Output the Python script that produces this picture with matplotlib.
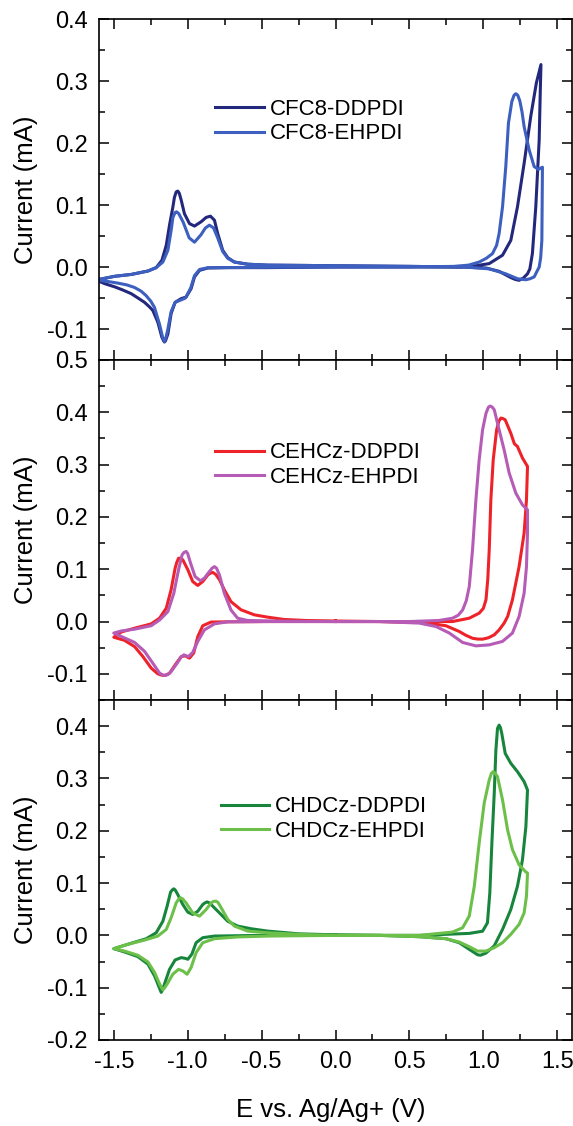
import matplotlib
matplotlib.use('Agg')
import matplotlib.pyplot as plt
from matplotlib.ticker import MultipleLocator, FormatStrFormatter

plt.rcParams['font.family'] = ['Liberation Sans', 'DejaVu Sans']
plt.rcParams['axes.unicode_minus'] = False

# ---- data: each curve is one closed CV loop (E in V, I in mA) ----
# panel 1
cfc8_dd_E = [0.0, -0.2, -0.46, -0.594, -0.684, -0.729, -0.763, -0.797, -0.819, -0.846, -0.875, -0.909, -0.954,
             -0.988, -1.022, -1.044, -1.057, -1.067, -1.078, -1.09, -1.100, -1.123, -1.145, -1.174, -1.213, -1.269,
             -1.382, -1.494, -1.62,
             -1.56, -1.494, -1.44, -1.382, -1.33, -1.292, -1.26, -1.236, -1.202, -1.175, -1.163, -1.157, -1.150,
             -1.134, -1.112, -1.085, -1.044, -1.011, -0.977, -0.954, -0.920, -0.864, -0.729, -0.459, 0.0,
             0.5, 0.85, 0.95, 1.04, 1.13, 1.186, 1.231, 1.276, 1.321, 1.359, 1.39,
             1.385, 1.378, 1.355, 1.332, 1.315, 1.299, 1.27, 1.242, 1.215, 1.186, 1.107, 1.018, 0.85, 0.5, 0.0]
cfc8_dd_I = [0.002, 0.0025, 0.003, 0.0045, 0.008, 0.015, 0.027, 0.054, 0.0755, 0.082, 0.080, 0.073, 0.066,
             0.070, 0.086, 0.108, 0.119, 0.1225, 0.121, 0.112, 0.097, 0.0675, 0.035, 0.011, -0.001, -0.0065,
             -0.012, -0.015, -0.021,
             -0.027, -0.032, -0.037, -0.043, -0.051, -0.057, -0.064, -0.070, -0.089, -0.113, -0.119, -0.121, -0.119,
             -0.108, -0.075, -0.057, -0.051, -0.0485, -0.035, -0.016, -0.0054, -0.0016, -0.001, -0.001, 0.0,
             0.0, 0.0005, 0.002, 0.0055, 0.019, 0.043, 0.097, 0.167, 0.243, 0.297, 0.3265,
             0.28, 0.205, 0.097, 0.0216, -0.003, -0.011, -0.018, -0.0215, -0.020, -0.017, -0.007, -0.0016, 0.0, 0.001, 0.002]

cfc8_eh_E = [0.0, -0.2, -0.46, -0.594, -0.684, -0.729, -0.763, -0.797, -0.825, -0.853, -0.88, -0.91, -0.954,
             -0.99, -1.03, -1.06, -1.075, -1.085, -1.10, -1.112, -1.134, -1.168, -1.213, -1.269, -1.382, -1.494, -1.62,
             -1.55, -1.472, -1.41, -1.36, -1.315, -1.282, -1.25, -1.225, -1.191, -1.17, -1.157, -1.146, -1.134, -1.112,
             -1.085, -1.044, -1.015, -0.98, -0.954, -0.92, -0.864, -0.5, 0.0,
             0.5, 0.8, 0.9, 0.972, 1.02, 1.062, 1.09, 1.107, 1.130, 1.152, 1.170, 1.193, 1.208, 1.220, 1.233, 1.247,
             1.262, 1.276, 1.310, 1.344, 1.373, 1.40,
             1.398, 1.396, 1.388, 1.378, 1.344, 1.315, 1.288, 1.232, 1.152, 1.04, 0.87, 0.5, 0.0]
cfc8_eh_I = [0.002, 0.0025, 0.003, 0.0045, 0.008, 0.014, 0.025, 0.047, 0.063, 0.0675, 0.063, 0.052, 0.040,
             0.047, 0.072, 0.086, 0.089, 0.088, 0.080, 0.059, 0.027, 0.008, -0.001, -0.0065, -0.012, -0.015, -0.021,
             -0.023, -0.026, -0.029, -0.033, -0.039, -0.046, -0.055, -0.065, -0.092, -0.113, -0.120, -0.113, -0.100,
             -0.072, -0.057, -0.053, -0.050, -0.034, -0.014, -0.004, -0.0012, -0.0005, 0.0,
             0.0, 0.001, 0.003, 0.008, 0.014, 0.0216, 0.035, 0.054, 0.097, 0.162, 0.232, 0.267, 0.277, 0.2795, 0.277,
             0.268, 0.25, 0.2265, 0.189, 0.162, 0.1575, 0.161,
             0.10, 0.043, 0.015, 0.0, -0.016, -0.019, -0.0205, -0.019, -0.011, -0.003, 0.0, 0.001, 0.002]

# panel 2
cehcz_dd_E = [0.0, -0.2, -0.35, -0.459, -0.549, -0.639, -0.707, -0.752, -0.785, -0.81, -0.831, -0.85, -0.864,
              -0.898, -0.932, -0.966, -0.999, -1.033, -1.05, -1.062, -1.075, -1.085, -1.112, -1.145, -1.190, -1.247,
              -1.359, -1.449, -1.50,
              -1.427, -1.359, -1.303, -1.247, -1.202, -1.175, -1.161, -1.145, -1.123, -1.085, -1.044, -1.017, -0.988,
              -0.959, -0.932, -0.898, -0.842, -0.729, -0.459, 0.0,
              0.5, 0.792, 0.905, 0.972, 1.0, 1.018, 1.030, 1.040, 1.051, 1.067, 1.090, 1.105, 1.119, 1.133, 1.148,
              1.186, 1.21, 1.231, 1.265, 1.299,
              1.292, 1.276, 1.242, 1.197, 1.165, 1.141, 1.107, 1.074, 1.035, 0.995, 0.96, 0.927, 0.88, 0.837, 0.747,
              0.59, 0.3, 0.0]
cehcz_dd_I = [0.001, 0.002, 0.004, 0.0084, 0.0128, 0.0224, 0.038, 0.0606, 0.080, 0.090, 0.094, 0.092, 0.089,
              0.0765, 0.069, 0.0765, 0.099, 0.118, 0.121, 0.121, 0.112, 0.102, 0.061, 0.0255, 0.0065, -0.0045,
              -0.0127, -0.020, -0.030,
              -0.036, -0.048, -0.067, -0.089, -0.100, -0.1025, -0.103, -0.102, -0.099, -0.083, -0.067, -0.0656, -0.070,
              -0.060, -0.029, -0.008, -0.001, -0.0005, 0.0, 0.0,
              0.0, 0.0, 0.0064, 0.016, 0.025, 0.0415, 0.08, 0.137, 0.233, 0.309, 0.3665, 0.383, 0.389, 0.388, 0.3857,
              0.360, 0.34, 0.3346, 0.3125, 0.2965,
              0.233, 0.169, 0.105, 0.0415, 0.01, -0.003, -0.016, -0.0254, -0.031, -0.0337, -0.0335, -0.032, -0.026,
              -0.019, -0.008, -0.002, 0.0, 0.001]

cehcz_eh_E = [0.0, -0.3, -0.459, -0.594, -0.662, -0.707, -0.752, -0.785, -0.805, -0.819, -0.835, -0.853, -0.887,
              -0.914, -0.950, -0.981, -1.000, -1.011, -1.025, -1.038, -1.062, -1.094, -1.134, -1.190, -1.247, -1.359,
              -1.449, -1.50,
              -1.449, -1.359, -1.292, -1.236, -1.19, -1.165, -1.152, -1.135, -1.112, -1.071, -1.045, -1.026, -0.995,
              -0.966, -0.932, -0.887, -0.819, -0.729, -0.459, 0.0,
              0.5, 0.7, 0.792, 0.830, 0.860, 0.885, 0.905, 0.927, 0.950, 0.972, 0.995, 1.018, 1.035, 1.047, 1.060,
              1.074, 1.107, 1.141, 1.175, 1.220, 1.265, 1.299,
              1.299, 1.292, 1.276, 1.242, 1.197, 1.130, 1.04, 0.950, 0.860, 0.770, 0.680, 0.567, 0.3, 0.0]
cehcz_eh_I = [0.0, 0.0005, 0.0013, 0.002, 0.0064, 0.022, 0.054, 0.089, 0.102, 0.105, 0.102, 0.0956, 0.083,
              0.078, 0.086, 0.112, 0.130, 0.134, 0.132, 0.1275, 0.099, 0.054, 0.019, 0.003, -0.008, -0.0146,
              -0.018, -0.022,
              -0.0286, -0.040, -0.057, -0.0796, -0.0987, -0.1025, -0.103, -0.1015, -0.0956, -0.0796, -0.068, -0.0637,
              -0.067, -0.059, -0.038, -0.016, -0.0044, -0.0006, 0.0, 0.0,
              0.0, 0.002, 0.0064, 0.012, 0.022, 0.04, 0.067, 0.137, 0.233, 0.309, 0.3665, 0.398, 0.41, 0.412, 0.41,
              0.405, 0.3665, 0.328, 0.284, 0.2455, 0.223, 0.2135,
              0.169, 0.105, 0.054, 0.0096, -0.022, -0.038, -0.0446, -0.0465, -0.040, -0.022, -0.0095, -0.003, 0.0, 0.0]

# panel 3
chdcz_dd_E = [0.0, -0.25, -0.459, -0.571, -0.662, -0.729, -0.785, -0.831, -0.852, -0.869, -0.884, -0.898, -0.932,
              -0.966, -0.999, -1.033, -1.067, -1.085, -1.094, -1.104, -1.116, -1.139, -1.168, -1.213, -1.280, -1.382,
              -1.50,
              -1.427, -1.337, -1.269, -1.224, -1.197, -1.185, -1.179, -1.170, -1.157, -1.123, -1.085, -1.044, -1.015,
              -0.999, -0.972, -0.943, -0.898, -0.819, -0.5, 0.0,
              0.567, 0.905, 0.995, 1.028, 1.044, 1.058, 1.074, 1.085, 1.096, 1.107, 1.116, 1.125, 1.148, 1.186, 1.231,
              1.276, 1.299,
              1.288, 1.265, 1.231, 1.186, 1.130, 1.074, 1.017, 0.98, 0.961, 0.905, 0.837, 0.747, 0.567, 0.3, 0.0]
chdcz_dd_I = [0.001, 0.003, 0.0082, 0.0127, 0.0178, 0.027, 0.043, 0.056, 0.062, 0.064, 0.062, 0.059, 0.046,
              0.040, 0.0444, 0.059, 0.078, 0.087, 0.089, 0.087, 0.0825, 0.056, 0.027, 0.005, -0.0063, -0.015,
              -0.0254,
              -0.0317, -0.0406, -0.055, -0.0775, -0.0965, -0.105, -0.109, -0.104, -0.093, -0.065, -0.047, -0.0425,
              -0.044, -0.0457, -0.036, -0.014, -0.0044, -0.0013, 0.0, 0.0,
              0.0, 0.0038, 0.008, 0.024, 0.081, 0.1766, 0.272, 0.354, 0.3956, 0.402, 0.397, 0.386, 0.348, 0.329,
              0.313, 0.294, 0.278,
              0.208, 0.1448, 0.094, 0.0495, 0.0114, -0.020, -0.034, -0.038, -0.037, -0.0267, -0.014, -0.0063,
              -0.0025, 0.0, 0.001]

chdcz_eh_E = [0.0, -0.25, -0.459, -0.594, -0.684, -0.729, -0.774, -0.795, -0.808, -0.825, -0.842, -0.875, -0.920,
              -0.966, -1.011, -1.035, -1.049, -1.062, -1.078, -1.112, -1.145, -1.202, -1.292, -1.404, -1.50,
              -1.427, -1.337, -1.269, -1.224, -1.19, -1.175, -1.168, -1.158, -1.139, -1.10, -1.062, -1.033, -1.004,
              -0.977, -0.943, -0.898, -0.819, -0.662, -0.459, 0.0,
              0.567, 0.792, 0.860, 0.905, 0.939, 0.972, 1.006, 1.040, 1.055, 1.067, 1.080, 1.096, 1.130, 1.164, 1.197,
              1.242, 1.283, 1.299,
              1.292, 1.276, 1.242, 1.186, 1.130, 1.074, 1.017, 0.961, 0.905, 0.837, 0.747, 0.567, 0.3, 0.0]
chdcz_eh_I = [0.0, 0.002, 0.005, 0.0082, 0.0178, 0.0305, 0.053, 0.063, 0.0654, 0.065, 0.062, 0.0495, 0.0368,
              0.043, 0.062, 0.070, 0.0718, 0.069, 0.062, 0.0337, 0.0114, -0.0013, -0.009, -0.017, -0.0254,
              -0.030, -0.038, -0.0508, -0.071, -0.093, -0.101, -0.104, -0.101, -0.093, -0.074, -0.065, -0.068, -0.0743,
              -0.0615, -0.033, -0.014, -0.0063, -0.003, -0.0013, 0.0,
              0.0, 0.0064, 0.0146, 0.037, 0.094, 0.1766, 0.253, 0.297, 0.31, 0.313, 0.31, 0.3035, 0.259, 0.202, 0.164,
              0.135, 0.1225, 0.119,
              0.075, 0.043, 0.021, 0.002, -0.014, -0.0235, -0.030, -0.030, -0.0216, -0.0127, -0.0063, -0.0025, 0.0, 0.0]

labels_top = ['CFC8-DDPDI', 'CFC8-EHPDI']
labels_mid = ['CEHCz-DDPDI', 'CEHCz-EHPDI']
labels_bot = ['CHDCz-DDPDI', 'CHDCz-EHPDI']
colors_top = ['#23287d', '#3c5fc0']
colors_mid = ['#ee2229', '#b65bb6']
colors_bot = ['#17863c', '#6cc049']
ylims = [(-0.15, 0.4), (-0.15, 0.5), (-0.2, 0.45)]


def style_axis(ax, ylim):
    ax.set_xlim(-1.6, 1.6)
    ax.set_ylim(*ylim)
    ax.xaxis.set_major_locator(MultipleLocator(0.5))
    ax.xaxis.set_minor_locator(MultipleLocator(0.25))
    ax.yaxis.set_major_locator(MultipleLocator(0.1))
    ax.yaxis.set_minor_locator(MultipleLocator(0.05))
    ax.xaxis.set_major_formatter(FormatStrFormatter('%.1f'))
    ax.yaxis.set_major_formatter(FormatStrFormatter('%.1f'))
    ax.tick_params(which='both', direction='in', top=True, right=True, width=1.1, labelsize=17)
    ax.tick_params(which='major', length=7, pad=8)
    ax.tick_params(which='minor', length=4)
    for sp in ax.spines.values():
        sp.set_linewidth(1.2)
    ax.set_ylabel('Current (mA)', fontsize=18.5)
    ax.yaxis.set_label_coords(-0.128, 0.5)


def draw_panel(ax, curves, labels, colors, ylim, legend_xy):
    for (E, I), lab, col in zip(curves, labels, colors):
        ax.plot(E, I, color=col, lw=2.2, label=lab, solid_joinstyle='round')
    style_axis(ax, ylim)
    ax.legend(loc='center left', bbox_to_anchor=legend_xy, frameon=False, fontsize=16,
              handlelength=2.2, handletextpad=0.25, labelspacing=0.15, borderpad=0, borderaxespad=0)


fig = plt.figure(figsize=(5.73, 11.26), dpi=100)
left, width = 99 / 573, 473 / 573
ax1 = fig.add_axes([left, 1 - 360 / 1126, width, 341 / 1126])
ax2 = fig.add_axes([left, 1 - 700 / 1126, width, 340 / 1126])
ax3 = fig.add_axes([left, 1 - 1040 / 1126, width, 340 / 1126])

draw_panel(ax1, [(cfc8_dd_E, cfc8_dd_I), (cfc8_eh_E, cfc8_eh_I)], labels_top, colors_top, ylims[0], (0.246, 0.699))
draw_panel(ax2, [(cehcz_dd_E, cehcz_dd_I), (cehcz_eh_E, cehcz_eh_I)], labels_mid, colors_mid, ylims[1], (0.246, 0.691))
draw_panel(ax3, [(chdcz_dd_E, chdcz_dd_I), (chdcz_eh_E, chdcz_eh_I)], labels_bot, colors_bot, ylims[2], (0.257, 0.650))

ax1.tick_params(labelbottom=False)
ax2.tick_params(labelbottom=False)
ax3.set_xlabel('E vs. Ag/Ag+ (V)', fontsize=18.5)
ax3.xaxis.set_label_coords(0.49, -0.17)

fig.savefig('out.png', dpi=100)
